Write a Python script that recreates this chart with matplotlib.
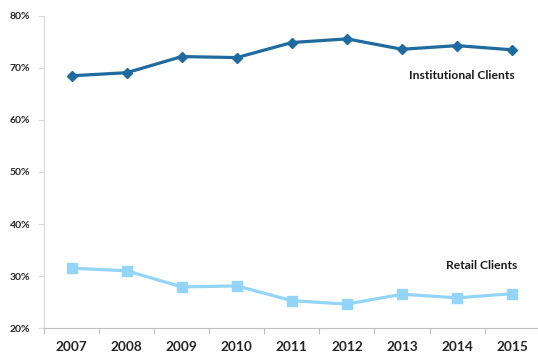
import matplotlib.pyplot as plt
from matplotlib.ticker import FixedLocator, NullFormatter

years = ["2007", "2008", "2009", "2010", "2011", "2012", "2013", "2014", "2015"]
institutional = [68.5, 69.1, 72.2, 72.0, 74.9, 75.6, 73.6, 74.3, 73.5]
retail = [31.5, 31.0, 27.9, 28.1, 25.25, 24.6, 26.5, 25.8, 26.6]
y_ticks = [20, 30, 40, 50, 60, 70, 80]

plt.rcParams["font.family"] = ["Lato", "DejaVu Sans"]

fig = plt.figure(figsize=(5.38, 3.53), dpi=100)
ax = fig.add_axes([0.0822, 0.0708, 0.9208, 0.8839])

x = range(len(years))

ax.plot(
    x,
    institutional,
    color="#1F6A9E",
    linewidth=2.3,
    marker="D",
    markersize=5,
    zorder=3,
)

ax.plot(
    x,
    retail,
    color="#92D5F8",
    linewidth=2.3,
    marker="s",
    markersize=7,
    zorder=3,
)

ax.set_xlim(-0.5, len(years) - 0.5)
ax.set_ylim(20, 80)

ax.set_yticks(y_ticks)
ax.set_yticklabels([f"{v}%" for v in y_ticks])

ax.set_xticks(list(x))
ax.set_xticklabels(years)
ax.xaxis.set_minor_locator(FixedLocator([i - 0.5 for i in range(len(years) + 1)]))
ax.xaxis.set_minor_formatter(NullFormatter())

ax.tick_params(axis="x", which="major", length=0, pad=9, labelsize=9.8)
ax.tick_params(axis="x", which="minor", length=4, color="#BFBFBF", width=0.8)
ax.tick_params(axis="y", length=4, color="#D9D9D9", width=0.8, pad=6, labelsize=7.5)

for label in ax.get_xticklabels() + ax.get_yticklabels():
    label.set_fontweight("bold")
    label.set_color("#262626")

ax.spines["top"].set_visible(False)
ax.spines["right"].set_visible(False)
ax.spines["left"].set_color("#D9D9D9")
ax.spines["bottom"].set_color("#BFBFBF")
ax.spines["left"].set_linewidth(0.8)
ax.spines["bottom"].set_linewidth(0.8)

ax.text(
    8.04,
    68.65,
    "Institutional Clients",
    ha="right",
    va="center",
    fontsize=8.7,
    fontweight="bold",
    color="#1A1A1A",
)

ax.text(
    8.09,
    32.1,
    "Retail Clients",
    ha="right",
    va="center",
    fontsize=8.7,
    fontweight="bold",
    color="#1A1A1A",
)

fig.savefig("out.png", dpi=100)
